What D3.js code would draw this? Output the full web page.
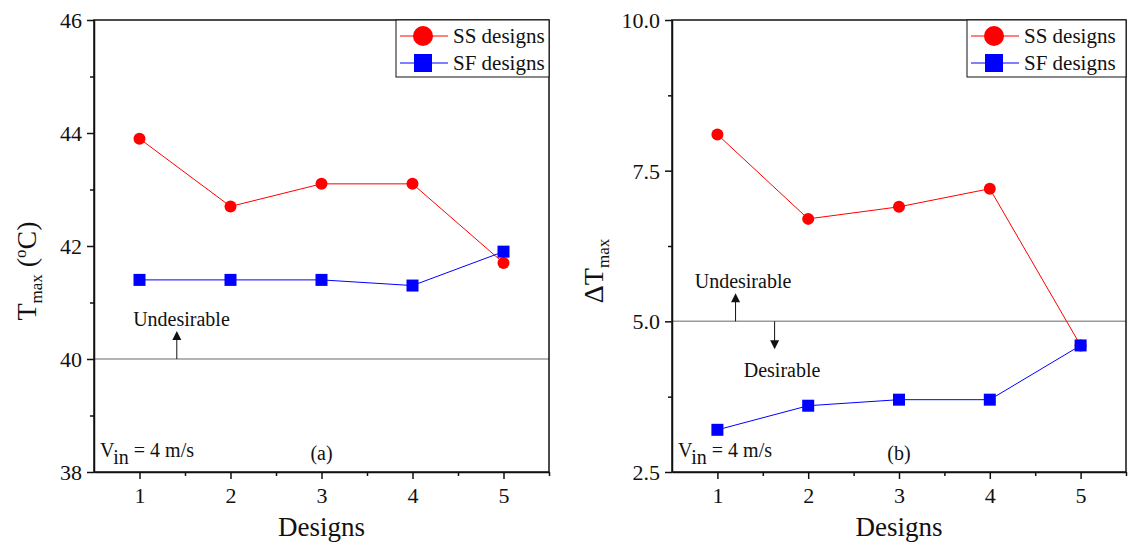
<!DOCTYPE html>
<html lang="en">
<head>
<meta charset="UTF-8">
<title>Tmax and Delta Tmax by design</title>
<script src="https://d3js.org/d3.v7.min.js"></script>
<style>
    body { margin: 0; background: #fff; }
    svg text { font-family: "Liberation Serif", "Times New Roman", serif; fill: #111; }
    .axis path, .axis line { stroke: #111; stroke-width: 1.5; }
    .frame { fill: none; stroke: #111; stroke-width: 1.5; }
</style>
</head>
<body>
<svg width="1132" height="552"></svg>
<script>
// data
var designs = [1, 2, 3, 4, 5];
var seriesNames = ["SS designs", "SF designs"];
var tmaxSS = [43.9, 42.7, 43.1, 43.1, 41.7];
var tmaxSF = [41.4, 41.4, 41.4, 41.3, 41.9];
var dtSS = [8.1, 6.7, 6.9, 7.2, 4.6];
var dtSF = [3.2, 3.6, 3.7, 3.7, 4.6];
var tmaxTicks = [38, 40, 42, 44, 46];
var dtTicks = [2.5, 5.0, 7.5, 10.0];

var svg = d3.select("svg");

function panel(opt) {
    var x = d3.scaleLinear().domain([0.5, 5.5]).range([opt.left, opt.right]);
    var y = d3.scaleLinear().domain(opt.yDomain).range([472, 20]);
    var g = svg.append("g");

    // threshold line
    g.append("line")
        .attr("x1", opt.left).attr("x2", opt.right)
        .attr("y1", y(opt.limit)).attr("y2", y(opt.limit))
        .attr("stroke", "#9a9a9a").attr("stroke-width", 1.5);

    // minor ticks
    var minorX = d3.range(1.5, 5.6, 1);
    g.append("g").attr("class", "axis")
        .attr("transform", "translate(0,472)")
        .call(d3.axisBottom(x).tickValues(minorX).tickSize(4).tickFormat(""))
        .select(".domain").remove();
    var minorY = opt.ticks.slice(0, -1).map(function(t, i) { return (t + opt.ticks[i + 1]) / 2; });
    g.append("g").attr("class", "axis")
        .attr("transform", "translate(" + opt.left + ",0)")
        .call(d3.axisLeft(y).tickValues(minorY).tickSize(4).tickFormat(""))
        .select(".domain").remove();

    // major axes
    var xa = g.append("g").attr("class", "axis")
        .attr("transform", "translate(0,472)")
        .call(d3.axisBottom(x).tickValues(designs).tickSize(7).tickSizeOuter(0).tickPadding(8).tickFormat(d3.format("d")));
    xa.selectAll("text").style("font-size", "22px").attr("dy", "0.71em");
    var ya = g.append("g").attr("class", "axis")
        .attr("transform", "translate(" + opt.left + ",0)")
        .call(d3.axisLeft(y).tickValues(opt.ticks).tickSize(7).tickSizeOuter(0).tickPadding(5).tickFormat(opt.fmt));
    ya.selectAll("text").style("font-size", "22px").attr("dy", "0.34em");
    xa.selectAll("text, line, path").attr("fill", null);

    g.append("rect").attr("class", "frame")
        .attr("x", opt.left).attr("y", 20)
        .attr("width", opt.right - opt.left).attr("height", 452);

    // series
    var line = d3.line().x(function(d, i) { return x(designs[i]); }).y(function(d) { return y(d); });
    g.append("path").datum(opt.ss).attr("d", line)
        .attr("fill", "none").attr("stroke", "#ff0000").attr("stroke-width", 1);
    g.selectAll(".ss").data(opt.ss).enter().append("circle")
        .attr("cx", function(d, i) { return x(designs[i]); })
        .attr("cy", function(d) { return y(d); })
        .attr("r", 6).attr("fill", "#ff0000");
    g.append("path").datum(opt.sf).attr("d", line)
        .attr("fill", "none").attr("stroke", "#0000ff").attr("stroke-width", 1);
    g.selectAll(".sf").data(opt.sf).enter().append("rect")
        .attr("x", function(d, i) { return x(designs[i]) - 6; })
        .attr("y", function(d) { return y(d) - 6; })
        .attr("width", 12).attr("height", 12).attr("fill", "#0000ff");

    // legend
    var lx = opt.legendX;
    g.append("rect").attr("x", lx).attr("y", 20)
        .attr("width", opt.right - lx).attr("height", 57)
        .attr("fill", "#fff").attr("stroke", "#111").attr("stroke-width", 1);
    var rows = [36, 63];
    var colors = ["#ff0000", "#0000ff"];
    rows.forEach(function(ry, i) {
        g.append("line").attr("x1", lx + 4).attr("x2", lx + 52)
            .attr("y1", ry).attr("y2", ry).attr("stroke", colors[i]).attr("stroke-width", 1);
        if (i === 0) {
            g.append("circle").attr("cx", lx + 27).attr("cy", ry).attr("r", 10).attr("fill", colors[i]);
        } else {
            g.append("rect").attr("x", lx + 18).attr("y", ry - 9).attr("width", 18).attr("height", 18).attr("fill", colors[i]);
        }
        g.append("text").attr("x", lx + 57).attr("y", ry + 7)
            .style("font-size", "21px").text(seriesNames[i]);
    });

    // x label
    g.append("text").attr("x", (opt.left + opt.right) / 2).attr("y", 536)
        .attr("text-anchor", "middle").style("font-size", "27px").text("Designs");

    // y label
    var yl = g.append("text")
        .attr("transform", "translate(" + opt.yLabelX + ",271) rotate(-90)")
        .attr("text-anchor", "middle").style("font-size", "28px");
    yl.append("tspan").text(opt.yLabel);
    yl.append("tspan").attr("dy", 6).style("font-size", "17px").text("max");
    if (opt.unit) {
        yl.append("tspan").attr("dy", -6).text(" (");
        yl.append("tspan").attr("dy", -10).style("font-size", "17px").text("o");
        yl.append("tspan").attr("dy", 10).text("C)");
    }

    // inlet velocity and panel tag
    var v = g.append("text").attr("x", opt.left + 6).attr("y", 457).style("font-size", "20px");
    v.append("tspan").text("V");
    v.append("tspan").attr("dy", 7).text("in");
    v.append("tspan").attr("dy", -7).text(" = 4 m/s");
    g.append("text").attr("x", x(3)).attr("y", 460).attr("text-anchor", "middle")
        .style("font-size", "20px").text(opt.tag);

    // annotations
    opt.notes.forEach(function(n) {
        var y0 = y(opt.limit);
        var y1 = y0 + n.dir * 28;
        g.append("line").attr("x1", x(n.at)).attr("x2", x(n.at))
            .attr("y1", y0).attr("y2", y1 - n.dir * 8)
            .attr("stroke", "#111").attr("stroke-width", 1);
        g.append("path")
            .attr("d", "M" + (x(n.at) - 4.5) + "," + (y1 - n.dir * 9) + "L" + (x(n.at) + 4.5) + "," + (y1 - n.dir * 9) + "L" + x(n.at) + "," + y1 + "Z")
            .attr("fill", "#111");
        g.append("text").attr("x", x(n.textAt)).attr("y", n.textY)
            .style("font-size", "20px").text(n.text);
    });
}

panel({
    left: 94, right: 549, yDomain: [38, 46], ticks: tmaxTicks, fmt: d3.format("d"),
    limit: 40, ss: tmaxSS, sf: tmaxSF, legendX: 396, yLabel: "T", unit: true, yLabelX: 36, tag: "(a)",
    notes: [{ at: 1.41, dir: -1, text: "Undesirable", textAt: 0.93, textY: 326 }]
});
panel({
    left: 672, right: 1126, yDomain: [2.5, 10], ticks: dtTicks, fmt: d3.format(".1f"),
    limit: 5, ss: dtSS, sf: dtSF, legendX: 967, yLabel: "\u0394T", unit: false, yLabelX: 603, tag: "(b)",
    notes: [
        { at: 1.2, dir: -1, text: "Undesirable", textAt: 0.75, textY: 288 },
        { at: 1.63, dir: 1, text: "Desirable", textAt: 1.29, textY: 377 }
    ]
});
</script>
</body>
</html>
